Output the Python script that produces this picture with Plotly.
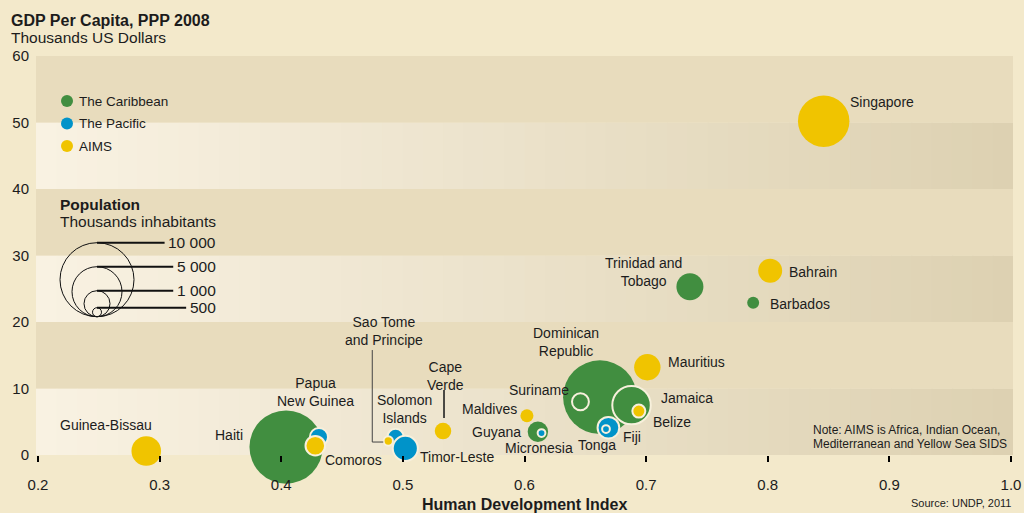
import numpy as np
import plotly.graph_objects as go

# ---------------- data ----------------
countries = ["Haiti", "Dominican Republic", "Jamaica", "Suriname", "Guyana",
             "Trinidad and Tobago", "Barbados",
             "Papua New Guinea", "Solomon Islands", "Timor-Leste", "Fiji", "Tonga", "Micronesia",
             "Guinea-Bissau", "Comoros", "Sao Tome and Principe", "Cape Verde", "Maldives",
             "Belize", "Mauritius", "Bahrain", "Singapore"]
regions = ["The Caribbean"] * 7 + ["The Pacific"] * 6 + ["AIMS"] * 9
hdi = [0.404, 0.662, 0.688, 0.646, 0.611, 0.736, 0.788,
       0.431, 0.494, 0.502, 0.669, 0.667, 0.614,
       0.289, 0.428, 0.488, 0.533, 0.602, 0.694, 0.701, 0.802, 0.846]
gdp = [1.2, 8.7, 7.5, 8.0, 3.5, 25.3, 22.9,
       2.7, 2.7, 1.0, 4.1, 3.9, 3.3,
       0.6, 1.4, 2.1, 3.6, 5.9, 6.6, 13.2, 27.7, 50.2]
population = [9800, 9900, 2700, 520, 760, 1330, 260,
              600, 500, 1150, 860, 110, 110,
              1600, 700, 160, 500, 310, 310, 1270, 1050, 4840]
region_names = ["The Caribbean", "The Pacific", "AIMS"]
region_colors = ["#418e40", "#0093c9", "#f0c400"]
legend_pop_labels = ["10 000", "5 000", "1 000", "500"]
x_ticks = [0.2, 0.3, 0.4, 0.5, 0.6, 0.7, 0.8, 0.9, 1.0]
y_ticks = [0, 10, 20, 30, 40, 50, 60]

label_text = {
    "Trinidad and Tobago": "Trinidad and<br>Tobago",
    "Dominican Republic": "Dominican<br>Republic",
    "Cape Verde": "Cape<br>Verde",
    "Solomon Islands": "Solomon<br>Islands",
    "Sao Tome and Principe": "Sao Tome<br>and Principe",
    "Papua New Guinea": "Papua<br>New Guinea",
}
# label placement (pixel offsets from bubble centre, anchor)
label_pos = {
    "Singapore": (24, 19, "left"), "Bahrain": (17, -1, "left"), "Barbados": (15, -1, "left"),
    "Trinidad and Tobago": (-46, 15, "center"), "Mauritius": (19, 5, "left"),
    "Jamaica": (27, 7, "left"), "Belize": (12, -11, "left"),
    "Dominican Republic": (-34, 55, "center"), "Suriname": (-9, 12, "right"),
    "Maldives": (-8, 7, "right"), "Guyana": (-15, 0, "right"),
    "Micronesia": (-3, -15, "center"), "Tonga": (-9, -16, "center"), "Fiji": (13, -9, "left"),
    "Cape Verde": (2, 55, "center"), "Timor-Leste": (13, -9, "left"),
    "Solomon Islands": (9, 28, "center"), "Sao Tome and Principe": (-4, 110, "center"),
    "Papua New Guinea": (-3, 45, "center"), "Comoros": (8, -14, "left"),
    "Haiti": (-41, 12, "right"), "Guinea-Bissau": (-40, 26, "center"),
}
# bubbles drawn with a cream rim where they overlap others
outlined = {"Jamaica", "Suriname", "Papua New Guinea", "Solomon Islands", "Timor-Leste",
            "Fiji", "Tonga", "Micronesia", "Comoros", "Sao Tome and Principe", "Belize"}

# ---------------- layout geometry ----------------
W, H = 1024, 513
ML, MR, MT, MB = 36, 11, 56, 58
PW, PH = W - ML - MR, H - MT - MB
XLO = 0.2 - 2 / 1216.25
XHI = 1.0 + 2 / 1216.25
FONT = "Liberation Sans, Arial, sans-serif"
TXT = "#1c1c1c"
R_MAX = 37.0  # pixel radius of a 10 000 thousand bubble
LEGEND_R = [37, 25, 13, 4.5]  # key circle radii as drawn in the key


def pxx(x):
    return (x - ML) / PW


def pxy(y):
    return (H - MB - y) / PH


def diam(p):
    return 2 * R_MAX * np.sqrt(np.asarray(p, dtype=float) / 10000.0)


fig = go.Figure()

# bubbles
for name, col in zip(region_names, region_colors):
    idx = [i for i, r in enumerate(regions) if r == name]
    fig.add_trace(go.Scatter(
        x=[hdi[i] for i in idx], y=[gdp[i] for i in idx],
        mode="markers", name=name, text=[countries[i] for i in idx],
        marker=dict(size=diam([population[i] for i in idx]), sizemode="diameter",
                    color=col, opacity=1,
                    line=dict(color="#f7f0dc",
                              width=[2 if countries[i] in outlined else 0 for i in idx])),
        cliponaxis=False, showlegend=False, hoverinfo="text"))

shapes = []
# background bands
NS = 48
for b in range(6):
    y0, y1 = b * 10, (b + 1) * 10
    if b % 2 == 1:
        shapes.append(dict(type="rect", xref="x", yref="y", x0=XLO, x1=XHI, y0=y0, y1=y1,
                           fillcolor="#e8dcbd", line=dict(width=0), layer="below"))
    else:
        c0 = np.array([249, 242, 227])
        c1 = np.array([221, 209, 177])
        for k in range(NS):
            t = (k + 0.5) / NS
            c = (c0 + (c1 - c0) * t).round().astype(int)
            xa = XLO + (XHI - XLO) * k / NS
            xb = XLO + (XHI - XLO) * (k + 1) / NS + 0.001
            shapes.append(dict(type="rect", xref="x", yref="y", x0=xa, x1=min(xb, XHI),
                               y0=y0, y1=y1, fillcolor="rgb(%d,%d,%d)" % tuple(c),
                               line=dict(width=0), layer="below"))

# leader lines
ix = countries.index("Sao Tome and Principe")
shapes.append(dict(type="path", xref="x", yref="y", xsizemode="pixel", ysizemode="pixel",
                   xanchor=hdi[ix], yanchor=gdp[ix], path="M -16,91 L -16,-1 L -5,-1",
                   line=dict(color="#444", width=1)))
ix = countries.index("Cape Verde")
shapes.append(dict(type="path", xref="x", yref="y", xsizemode="pixel", ysizemode="pixel",
                   xanchor=hdi[ix], yanchor=gdp[ix], path="M 1,41 L 1,13",
                   line=dict(color="#222", width=1.6)))

annotations = []
for i, c in enumerate(countries):
    dx, dy, anc = label_pos[c]
    annotations.append(dict(x=hdi[i], y=gdp[i], xref="x", yref="y", text=label_text.get(c, c),
                            showarrow=False, xanchor=anc, yanchor="middle", xshift=dx, yshift=dy,
                            align="center", font=dict(family=FONT, size=14, color=TXT)))

# region legend (manual)
for k, (name, col) in enumerate(zip(region_names, region_colors)):
    yy = 101 + 22.5 * k
    shapes.append(dict(type="circle", xref="paper", yref="paper", xsizemode="pixel",
                       ysizemode="pixel", xanchor=pxx(67), yanchor=pxy(yy),
                       x0=-6, x1=6, y0=-6, y1=6, fillcolor=col, line=dict(width=0)))
    annotations.append(dict(x=pxx(77), y=pxy(yy), xref="paper", yref="paper", text=name,
                            showarrow=False, xanchor="left", yanchor="middle",
                            font=dict(family=FONT, size=13.5, color=TXT)))

# population legend
annotations.append(dict(x=pxx(58), y=pxy(204), xref="paper", yref="paper", text="<b>Population</b>",
                        showarrow=False, xanchor="left", yanchor="middle",
                        font=dict(family=FONT, size=15.5, color=TXT)))
annotations.append(dict(x=pxx(58), y=pxy(221.5), xref="paper", yref="paper",
                        text="Thousands inhabitants", showarrow=False, xanchor="left",
                        yanchor="middle", font=dict(family=FONT, size=15.5, color=TXT)))
CX, CY = 97, 316.7
for r, lab in zip(LEGEND_R, legend_pop_labels):
    shapes.append(dict(type="circle", xref="paper", yref="paper", xsizemode="pixel",
                       ysizemode="pixel", xanchor=pxx(CX), yanchor=pxy(CY),
                       x0=-r, x1=r, y0=0, y1=2 * r, line=dict(color="#111", width=1)))
    wlab = 15.5 * (0.556 * sum(ch.isdigit() for ch in lab) + 0.278 * lab.count(" "))
    xend = 217 - wlab - 5
    shapes.append(dict(type="line", xref="paper", yref="paper", xsizemode="pixel",
                       ysizemode="pixel", xanchor=pxx(CX), yanchor=pxy(CY),
                       x0=0, x1=xend - CX, y0=2 * r, y1=2 * r, line=dict(color="#111", width=2)))
    annotations.append(dict(x=pxx(218), y=pxy(CY - 2 * r), xref="paper", yref="paper", text=lab,
                            showarrow=False, xanchor="right", yanchor="middle",
                            font=dict(family=FONT, size=15.5, color=TXT)))

# titles and notes
annotations += [
    dict(x=pxx(9), y=pxy(20), xref="paper", yref="paper", text="<b>GDP Per Capita, PPP 2008</b>",
         showarrow=False, xanchor="left", yanchor="middle", font=dict(family=FONT, size=16, color=TXT)),
    dict(x=pxx(9), y=pxy(38), xref="paper", yref="paper", text="Thousands US Dollars",
         showarrow=False, xanchor="left", yanchor="middle", font=dict(family=FONT, size=15.5, color=TXT)),
    dict(x=pxx(524.5), y=pxy(504), xref="paper", yref="paper", text="<b>Human Development Index</b>",
         showarrow=False, xanchor="center", yanchor="middle", font=dict(family=FONT, size=16, color=TXT)),
    dict(x=pxx(1013), y=pxy(503), xref="paper", yref="paper", text="Source: UNDP, 2011",
         showarrow=False, xanchor="right", yanchor="middle", font=dict(family=FONT, size=11, color=TXT)),
    dict(x=pxx(811), y=pxy(430), xref="paper", yref="paper", text="Note: AIMS is Africa, Indian Ocean,",
         showarrow=False, xanchor="left", yanchor="middle", font=dict(family=FONT, size=12, color=TXT)),
    dict(x=pxx(811), y=pxy(443.5), xref="paper", yref="paper",
         text="Mediterranean and Yellow Sea SIDS",
         showarrow=False, xanchor="left", yanchor="middle", font=dict(family=FONT, size=12, color=TXT)),
]

fig.update_layout(
    width=W, height=H, autosize=False,
    margin=dict(l=ML, r=MR, t=MT, b=MB, pad=0),
    paper_bgcolor="#f3e9cb", plot_bgcolor="rgba(0,0,0,0)",
    shapes=shapes, annotations=annotations, showlegend=False,
    font=dict(family=FONT, color=TXT),
    xaxis=dict(range=[XLO, XHI], tickvals=x_ticks, ticktext=["%.1f" % v for v in x_ticks],
               ticks="outside", ticklen=6, tickwidth=2, tickcolor="#000",
               showgrid=False, zeroline=False, showline=False, automargin=False,
               tickfont=dict(family=FONT, size=15, color=TXT), ticklabelstandoff=10),
    yaxis=dict(range=[0, 60], tickvals=y_ticks, ticks="", showgrid=False, zeroline=False,
               showline=False, automargin=False,
               tickfont=dict(family=FONT, size=15, color=TXT), ticklabelstandoff=6),
)

fig.write_html("out.html", config={"displayModeBar": False},
               post_script="document.body.style.margin='0px';document.body.style.overflow='hidden';")
